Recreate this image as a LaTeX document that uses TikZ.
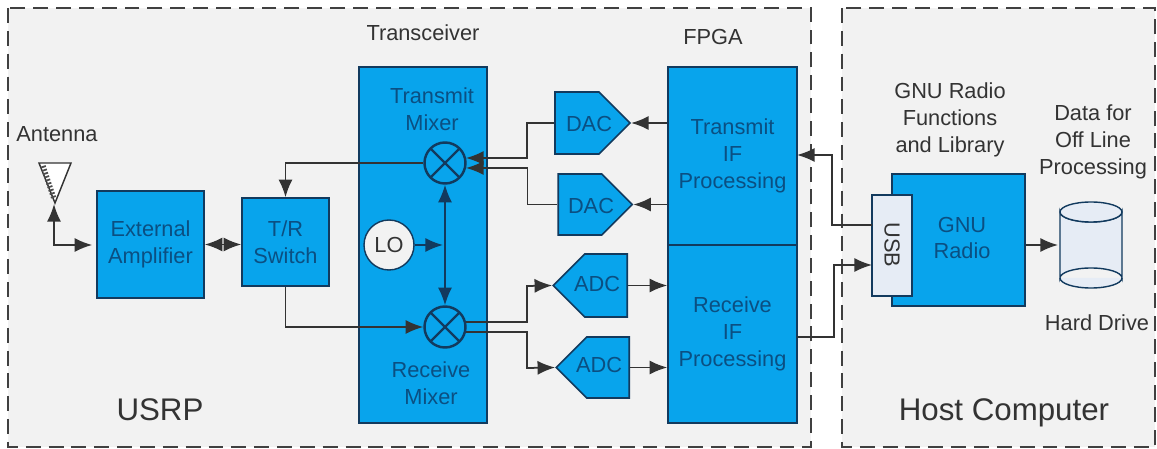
\documentclass[tikz,border=0pt]{standalone}
\usepackage{fontspec}
\setmainfont{Liberation Sans}
\usetikzlibrary{calc}
\usetikzlibrary{arrows.meta}
\usetikzlibrary{shapes.symbols}
\definecolor{myblue}{HTML}{08A4EC}
\definecolor{mynavy}{HTML}{123A5E}
\definecolor{mytext}{HTML}{0B4F82}
\definecolor{mygrey}{HTML}{333333}
\definecolor{mypanel}{HTML}{F2F2F2}
\definecolor{mypale}{HTML}{E6ECF5}
\tikzset{>={Latex[length=10pt,width=8pt]}}
\tikzset{
  panel/.style={fill=mypanel,draw=black!75,line width=0.7pt,dash pattern=on 8.5pt off 4.5pt},
  block/.style={draw=mynavy,fill=myblue,line width=0.9pt,text=mytext,align=center,inner sep=0pt},
  conv/.style={block,signal,signal pointer angle=90},
  mixer/.style={circle,draw=mynavy,fill=myblue,line width=1.4pt,inner sep=0pt,minimum size=0.82cm,
    path picture={\draw[mynavy,line width=1.4pt] (path picture bounding box.north west) -- (path picture bounding box.south east)
      (path picture bounding box.north east) -- (path picture bounding box.south west);}},
  pale/.style={draw=mynavy,fill=mypale,line width=0.8pt,inner sep=0pt},
  flow/.style={draw=black!80,line width=1pt},
  lbl/.style={text=mygrey,align=center,inner sep=0pt},
  lbltext/.style={text=mytext,align=center,inner sep=0pt},
  every node/.append style={font=\fontsize{12.4}{15.3}\selectfont},
}

\begin{document}
\begin{tikzpicture}[x=0.02cm,y=-0.02cm]
    \useasboundingbox (0,0) rectangle (1157,449);

    % panels
    \draw[panel] (8,8) rectangle (811,447);
    \draw[panel] (842,8) rectangle (1155,447);

    % blocks
    \node[block,minimum width=2.14cm,minimum height=2.14cm] (ampl) at (150.5,244.5) {External\\Amplifier};
    \node[block,minimum width=1.74cm,minimum height=1.76cm] (trsw) at (285.5,242) {T/R\\Switch};
    \node[block,minimum width=2.56cm,minimum height=7.12cm] (xcvr) at (423,245) {};
    \node[block,minimum width=2.58cm,minimum height=3.56cm] (ift) at (732.5,156) {Transmit\\IF\\Processing};
    \node[block,minimum width=2.58cm,minimum height=3.56cm] (ifr) at (732.5,334) {Receive\\IF\\Processing};
    \node[block,minimum width=2.66cm,minimum height=2.64cm] (gnu) at (958.5,240) {};
    \node[pale,minimum width=0.8cm,minimum height=2.02cm] (usb) at (892,245.5) {};
    \node[lbltext] (gnutxt) at (962,238) {GNU\\Radio};
    \node[text=mygrey,rotate=-90,inner sep=0pt] (usbtxt) at (892,245) {USB};

    % mixers and oscillator
    \node[mixer] (mixt) at (445,163) {};
    \node[mixer] (mixr) at (445,327) {};
    \node[pale,circle,fill=mypanel,text=mygrey,minimum size=1cm] (lo) at (389,245) {LO};
    \node[lbltext] (mixttxt) at (432,109) {Transmit\\Mixer};
    \node[lbltext] (mixrtxt) at (431,383.5) {Receive\\Mixer};

    % converters
    \node[conv,signal to=east,minimum width=1.5cm,minimum height=1.24cm] (daca) at (577,123) {};
    \node[conv,signal to=east,minimum width=1.48cm,minimum height=1.22cm] (dacb) at (580,204.5) {};
    \node[conv,signal to=west,minimum width=1.48cm,minimum height=1.26cm] (adca) at (606,285.5) {};
    \node[conv,signal to=west,minimum width=1.46cm,minimum height=1.22cm] (adcb) at (608,367.5) {};
    \node[lbltext] (dacatxt) at (589,124) {DAC};
    \node[lbltext] (dacbtxt) at (591,206) {DAC};
    \node[lbltext] (adcatxt) at (597,284) {ADC};
    \node[lbltext] (adcbtxt) at (599,365) {ADC};

    % antenna
    \coordinate (antl) at (39,163);
    \coordinate (antr) at (71,163);
    \coordinate (ant) at (54,204);
    \coordinate (antc) at (54,245);
    \draw[draw=black!80,fill=white,line width=0.8pt] (antl) -- (antr) -- (55,203) -- cycle;
    \draw[black!70,line width=3pt,dash pattern=on 1pt off 1pt] (43,166) -- (54,199);

    % disk
    \coordinate (dsk) at (1060,245);
    \node[inner sep=0pt] (dskt) at (1091,212) {};
    \draw[pale] (1060,212) -- (1060,278) arc (180:360:31 and 10) -- (1122,212) arc (0:180:31 and 10) -- cycle;
    \draw[pale] (dskt) ellipse (0.62cm and 0.2cm);
    \draw[pale] (1060,278) arc (180:0:31 and 10);

    % connectors
    \coordinate (txa) at (466,158);
    \coordinate (txb) at (466,168);
    \coordinate (rxa) at (466,322);
    \coordinate (rxb) at (466,332);
    \draw[flow,<->] (ant) -- (antc) -- ($(ampl.west |- antc)+(-4,0)$);
    \draw[flow,<->] (ampl.east) -- (trsw.west |- ampl.east);
    \draw[flow,->] (mixt.west) -- (trsw.north |- mixt.west) -- (trsw.north);
    \draw[flow,->] (trsw.south) -- (trsw.south |- mixr.west) -- (mixr.west);
    \draw[flow,<->,draw=mynavy] (mixt.south) -- (mixr.north);
    \draw[flow,->,draw=mynavy] (lo.east) -- (443,245);
    \draw[flow,->] (daca.west) -- ++(-27,0) |- (txa);
    \draw[flow,->] (dacb.west) -- ++(-30,0) |- (txb);
    \draw[flow,->] (rxa) -| (527,286) -- (adca.west);
    \draw[flow,->] (rxb) -| (527,368) -- (adcb.west);
    \draw[flow,->] (ift.west |- daca.east) -- (daca.east);
    \draw[flow,->] (ift.west |- dacb.east) -- (dacb.east);
    \draw[flow,->] (adca.east) -- (ifr.west |- adca.east);
    \draw[flow,->] (adcb.east) -- (ifr.west |- adcb.east);
    \coordinate (usbo) at (872,225);
    \coordinate (usbi) at (872,265);
    \draw[flow,->] (usbo) -- (832,225) |- (797,155);
    \draw[flow,->] (797,337) -- (834,337) |- (usbi);
    \draw[flow,->] (gnu.east |- dsk) -- ($(dsk)+(-2,0)$);

    % labels
    \node[lbl] (antlbl) at (57,134) {Antenna};
    \node[lbl] (xcvrlbl) at (423,33) {Transceiver};
    \node[lbl] (fpgalbl) at (713,37) {FPGA};
    \node[lbl] (gnulbl) at (950,119.5) {GNU Radio\\Functions\\and Library};
    \node[lbl] (datalbl) at (1093,142) {Data for\\Off Line\\Processing};
    \node[lbl] (hdlbl) at (1097,323) {Hard Drive};
    \node[lbl,font=\fontsize{17.8}{20}\selectfont] (usrplbl) at (160,410) {USRP};
    \node[lbl,font=\fontsize{17.8}{20}\selectfont] (hostlbl) at (1004,413) {Host Computer};
\end{tikzpicture}
\end{document}
